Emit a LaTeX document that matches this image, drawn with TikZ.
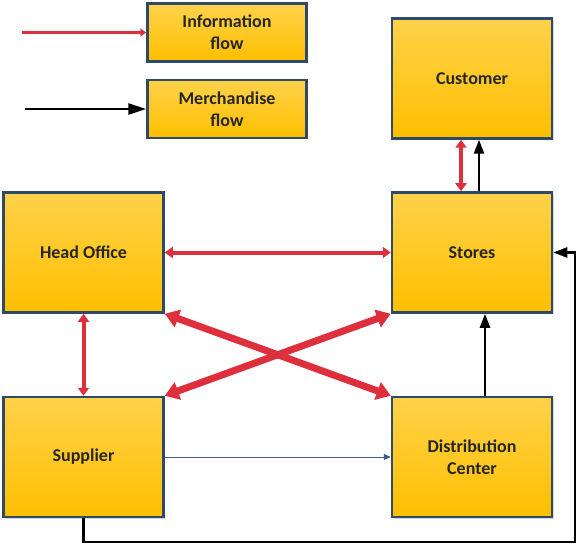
\documentclass[tikz,border=0pt]{standalone}
\usepackage{fontspec}
\setmainfont{Carlito}
\usetikzlibrary{arrows.meta,positioning,calc,shadows}
\definecolor{boxedge}{HTML}{2E4A68}
\definecolor{boxtop}{HTML}{FFD24A}
\definecolor{boxbot}{HTML}{FFBF00}
\definecolor{infored}{HTML}{DE2F3C}
\definecolor{flowblue}{HTML}{3C5A8A}

\begin{document}
\begin{tikzpicture}[x=1pt,y=-1pt,
box/.style={draw=boxedge,line width=2.5pt,top color=boxtop,bottom color=boxbot,minimum width=160pt,minimum height=120pt,align=center,font=\fontsize{18}{22}\selectfont\bfseries,text=black!85,drop shadow={shadow xshift=1.5pt,shadow yshift=-1.5pt,opacity=0.3}},
legendbox/.style={box,minimum width=159pt,minimum height=58pt},
info/.style={{Triangle[length=8pt,width=11pt]}-{Triangle[length=8pt,width=11pt]},line width=4pt,infored},
bigred/.style={{Triangle[length=14pt,width=18pt]}-{Triangle[length=14pt,width=18pt]},line width=7pt,infored},
merch/.style={-{Triangle[length=14pt,width=10pt]},line width=2.5pt,black},
goods/.style={-{Triangle[length=7pt,width=6pt]},line width=1pt,flowblue}]
\useasboundingbox (0,0) rectangle (580,545);
% legend
\node[legendbox] (infokey) at (227,32.5) {Information\\flow};
\node[legendbox] (merchkey) at (227,109) {Merchandise\\flow};
\coordinate (infotail) at (22,32.5);
\coordinate (merchtail) at (25,109);
\draw[-{Triangle[length=6pt,width=8pt]},line width=3pt,infored] (infotail) -- (infokey.west);
\draw[-{Triangle[length=18pt,width=11pt]},line width=2.5pt] (merchtail) -- (merchkey.west);
% boxes
\node[box] (customer) at (472,78.5) {Customer};
\node[box] (office) at (83.5,252.5) {Head Office};
\node[box] (stores) at (472,252.5) {Stores};
\node[box] (supplier) at (83.5,457) {Supplier};
\node[box] (dc) at (472,457) {Distribution\\Center};
\coordinate (loop) at (575,542);
% flows
\draw[info] ([xshift=-11pt]stores.north) -- ([xshift=-11pt]customer.south);
\draw[merch] ([xshift=7pt]stores.north) -- ([xshift=7pt]customer.south);
\draw[info] (office.east) -- (stores.west);
\draw[info] (office.south) -- (supplier.north);
\draw[bigred] (office.south east) -- (dc.north west);
\draw[bigred] (supplier.north east) -- (stores.south west);
\draw[goods] (supplier.east) -- (dc.west);
\draw[merch] ([xshift=13pt]dc.north) -- ([xshift=13pt]stores.south);
\draw[merch] (supplier.south) |- (loop) |- (stores.east);
\end{tikzpicture}
\end{document}
